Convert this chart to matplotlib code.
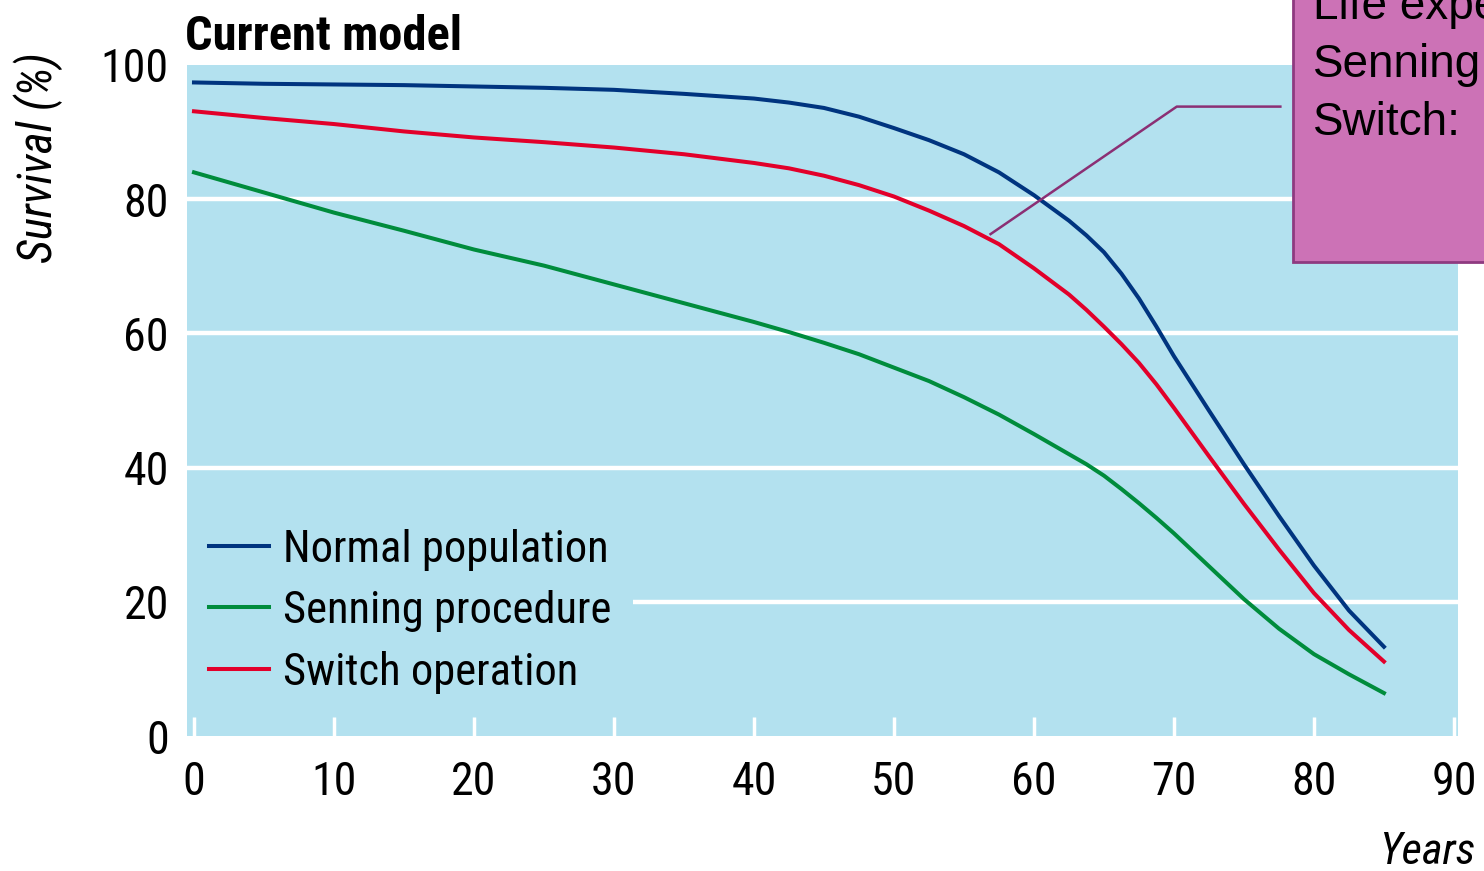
import matplotlib
matplotlib.use("Agg")
import matplotlib.pyplot as plt
from matplotlib.patches import Rectangle
from matplotlib import font_manager

# ---- data ----
years = [0, 5, 10, 15, 20, 25, 30, 35, 40, 42.5, 45, 47.5, 50, 52.5, 55, 57.5,
         60, 62.5, 63.75, 65, 66.25, 67.5, 68.75, 70, 72.5, 75, 77.5, 80, 82.5, 85]
normal = [97.4, 97.2, 97.1, 97.0, 96.8, 96.6, 96.3, 95.7, 95.0, 94.4, 93.6,
          92.3, 90.6, 88.8, 86.7, 84.0, 80.6, 76.8, 74.6, 72.1, 68.9, 65.2,
          61.0, 56.6, 48.5, 40.5, 32.8, 25.4, 18.7, 13.3]
senning = [84.0, 81.0, 78.0, 75.3, 72.5, 70.1, 67.3, 64.5, 61.7, 60.2, 58.6,
           56.9, 54.9, 52.9, 50.5, 47.9, 45.0, 42.0, 40.5, 38.8, 36.8, 34.7,
           32.5, 30.2, 25.3, 20.4, 16.0, 12.2, 9.2, 6.4]
switch = [93.1, 92.1, 91.2, 90.1, 89.2, 88.5, 87.7, 86.7, 85.4, 84.6, 83.5,
          82.1, 80.4, 78.3, 76.0, 73.3, 69.7, 65.8, 63.5, 61.0, 58.4, 55.6,
          52.4, 48.9, 41.7, 34.6, 27.8, 21.3, 15.8, 11.1]
series_labels = ["Normal population", "Senning procedure", "Switch operation"]
xticks = [0, 10, 20, 30, 40, 50, 60, 70, 80, 90]
yticks = [0, 20, 40, 60, 80, 100]
callout_x = [56.9, 70.2, 77.6]
callout_y = [74.8, 93.8, 93.8]
box_lines = ["Life expectancy:", "Senning:", "Switch:"]

# ---- style ----
BG = "#b3e1ef"
C_NORMAL = "#00347f"
C_SENNING = "#008c3c"
C_SWITCH = "#e2002a"

installed = {f.name for f in font_manager.fontManager.ttflist}
cands = ["Liberation Sans Narrow", "Roboto Condensed", "DejaVu Sans Condensed",
         "Open Sans Condensed", "Noto Sans Condensed", "Arial Narrow"]
narrow_found = [c for c in cands if c in installed]
NARROW = narrow_found[:1] + ["Liberation Sans", "DejaVu Sans"]
ARIAL = ["Liberation Sans", "DejaVu Sans"]
is_narrow = bool(narrow_found)
tick_fs = 33 if is_narrow else 29
leg_fs = 32 if is_narrow else 28

W, H = 1484, 871
fig = plt.figure(figsize=(W / 100, H / 100), dpi=100)
ax = fig.add_axes([187 / W, 1 - 736 / H, (1458 - 187) / W, (736 - 65) / H])
ax.set_facecolor(BG)
for s in ax.spines.values():
    s.set_visible(False)

ax.set_xlim(-0.5, 90.29)
ax.set_ylim(0.6, 100)

for yv in yticks[1:-1]:
    ax.axhline(yv, color="white", lw=3.2, zorder=1)

lw = 2.9
ax.plot(years, normal, color=C_NORMAL, lw=lw, zorder=3, label=series_labels[0])
ax.plot(years, senning, color=C_SENNING, lw=lw, zorder=3, label=series_labels[1])
ax.plot(years, switch, color=C_SWITCH, lw=lw, zorder=3, label=series_labels[2])

ax.plot(callout_x, callout_y, color="#8b2f74", lw=1.8, zorder=4, clip_on=False)

ax.set_xticks(xticks)
ax.set_yticks(yticks)
ax.tick_params(axis="x", direction="in", length=14, width=2.5, colors="white",
               pad=17, labelcolor="black", labelsize=tick_fs)
ax.tick_params(axis="y", length=0, pad=13, labelsize=tick_fs)
for lab in ax.get_xticklabels() + ax.get_yticklabels():
    lab.set_family(NARROW)

leg = ax.legend(loc="upper left", bbox_to_anchor=(0.0, 0.342),
                prop={"family": NARROW, "size": leg_fs}, frameon=True,
                facecolor=BG, edgecolor="none", framealpha=1,
                handlelength=1.35, handletextpad=0.3, labelspacing=0.43,
                borderpad=0.5, borderaxespad=0.0)
leg.set_zorder(2)

# titles / axis labels
fig.text(185 / W, 1 - 50 / H, "Current model", family=NARROW, weight="bold",
         fontsize=35 if is_narrow else 30, ha="left", va="baseline")
fig.text(38 / W, 1 - 158 / H, "Survival (%)", family=NARROW, style="italic",
         fontsize=34 if is_narrow else 28, rotation=90, ha="center", va="center")
fig.text(1475 / W, 1 - 864 / H, "Years", family=NARROW, style="italic",
         fontsize=32 if is_narrow else 27, ha="right", va="baseline")

# annotation box (partly off-figure as in the reference)
fig.patches.append(Rectangle((1293 / W, 1 - 262 / H), 0.3, 0.5,
                             transform=fig.transFigure, facecolor="#cc72b6",
                             edgecolor="#8e3a80", lw=2, zorder=5))
for i, t in enumerate(box_lines):
    fig.text(1313 / W, 1 - (19 + 58 * i) / H, t, family=ARIAL, fontsize=33,
             ha="left", va="baseline", zorder=6)

fig.savefig("out.png", dpi=100)
